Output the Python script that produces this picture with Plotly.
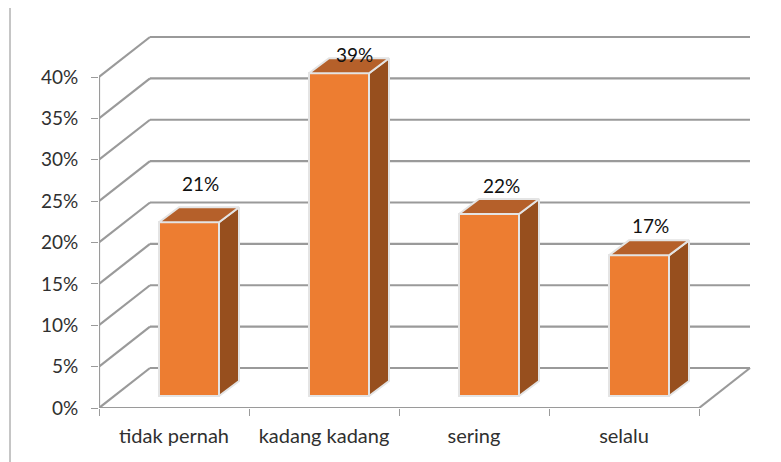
import plotly.graph_objects as go

# --- data ---
categories = ["tidak pernah", "kadang kadang", "sering", "selalu"]
values = [21, 39, 22, 17]
value_labels = ["21%", "39%", "22%", "17%"]
y_ticks = [0, 5, 10, 15, 20, 25, 30, 35, 40]
y_tick_labels = ["0%", "5%", "10%", "15%", "20%", "25%", "30%", "35%", "40%"]

# --- styling / 3D projection (axis units) ---
W, H = 781, 462
ML, MR, MT, MB = 91, 37, 22, 62
PLOT_W, PLOT_H = W - ML - MR, H - MT - MB
PX_PER_CAT, PX_PER_PCT = 150.0, 8.275
WALL_DX, WALL_DY = 51 / PX_PER_CAT, 40 / PX_PER_PCT      # floor depth
BAR_DX, BAR_DY = 20 / PX_PER_CAT, 15 / PX_PER_PCT        # bar depth
BASE_DY = 12 / PX_PER_PCT                                # bar lift off floor front
BAR_LEFT, BAR_W = 60 / PX_PER_CAT, 60 / PX_PER_CAT
GRID = "#9a9a9a"
FRONT, SIDE, TOP = "#ED7D31", "#974F1E", "#B5602A"
EDGE = "#e4e4e4"
FONT = "Lato"
TEXT = "#303030"
label_shift = [(11, 39), (15, 19), (12, 28), (11, 30)]   # label offsets, px

n = len(categories)
centers = [i + 0.5 for i in range(n)]
fig = go.Figure()

shapes = []
line = dict(color=GRID, width=2.2)
for t in y_ticks:
    yb = t + WALL_DY
    shapes.append(dict(type="line", xref="x", yref="y", x0=WALL_DX, x1=n + WALL_DX, y0=yb, y1=yb, line=line, layer="below"))
    shapes.append(dict(type="line", xref="x", yref="y", x0=0, x1=WALL_DX, y0=t, y1=yb, line=line, layer="below"))
shapes.append(dict(type="line", xref="x", yref="y", x0=n, x1=n + WALL_DX, y0=0, y1=WALL_DY, line=line, layer="below"))
# thin frame line at the left of the picture
shapes.append(dict(type="line", xref="paper", yref="paper", x0=(2 - ML) / PLOT_W, x1=(2 - ML) / PLOT_W,
                   y0=(MT + PLOT_H - H) / PLOT_H, y1=(MT + PLOT_H) / PLOT_H, line=dict(color="#8c8c8c", width=1)))

# front faces
fig.add_trace(go.Bar(
    x=[i + BAR_LEFT + BAR_W / 2 for i in range(n)],
    y=values,
    base=BASE_DY,
    width=BAR_W,
    marker=dict(color=FRONT, line=dict(color=EDGE, width=2)),
    showlegend=False,
))

# side and top faces
for i, v in enumerate(values):
    xl, xr = i + BAR_LEFT, i + BAR_LEFT + BAR_W
    yt = v + BASE_DY
    fig.add_trace(go.Scatter(
        x=[xr, xr + BAR_DX, xr + BAR_DX, xr, xr],
        y=[BASE_DY, BASE_DY + BAR_DY, yt + BAR_DY, yt, BASE_DY],
        mode="lines", fill="toself", fillcolor=SIDE, line=dict(color=EDGE, width=2),
        showlegend=False, hoverinfo="skip"))
    fig.add_trace(go.Scatter(
        x=[xl, xr, xr + BAR_DX, xl + BAR_DX, xl],
        y=[yt, yt, yt + BAR_DY, yt + BAR_DY, yt],
        mode="lines", fill="toself", fillcolor=TOP, line=dict(color=EDGE, width=2),
        showlegend=False, hoverinfo="skip"))

# front axis lines
fig.add_trace(go.Scatter(x=[0, n], y=[0, 0], mode="lines", line=line, cliponaxis=False, showlegend=False, hoverinfo="skip"))
fig.add_trace(go.Scatter(x=[0, 0], y=[y_ticks[0], y_ticks[-1]], mode="lines", line=line, cliponaxis=False, showlegend=False, hoverinfo="skip"))

annotations = []
for i, v in enumerate(values):
    sx, sy = label_shift[i]
    annotations.append(dict(
        x=i + BAR_LEFT + BAR_W / 2, y=v + BASE_DY, text=value_labels[i], showarrow=False,
        xshift=sx, yshift=sy, yanchor="middle", xref="x", yref="y", borderpad=0,
        font=dict(family=FONT, size=19, color="#111111")))

fig.update_layout(
    width=W, height=H,
    margin=dict(l=ML, r=MR, t=MT, b=MB, pad=0),
    paper_bgcolor="white", plot_bgcolor="white",
    shapes=shapes, annotations=annotations, showlegend=False, bargap=0,
    xaxis=dict(range=[0, PLOT_W / PX_PER_CAT], tickmode="array", tickvals=centers, ticktext=categories,
               ticks="", showgrid=False, zeroline=False, showline=False,
               tickfont=dict(family=FONT, size=20, color=TEXT), ticklabelstandoff=14,
               minor=dict(tickmode="array", tickvals=list(range(n + 1)), ticks="outside", ticklen=7, tickwidth=1, tickcolor=GRID, showgrid=False)),
    yaxis=dict(range=[0, PLOT_H / PX_PER_PCT], tickmode="array", tickvals=y_ticks, ticktext=y_tick_labels,
               ticks="outside", ticklen=7, tickwidth=1, tickcolor=GRID, showgrid=False, zeroline=False, showline=False,
               tickfont=dict(family=FONT, size=19, color=TEXT), ticklabelstandoff=9),
)
fig.write_html("out.html")
